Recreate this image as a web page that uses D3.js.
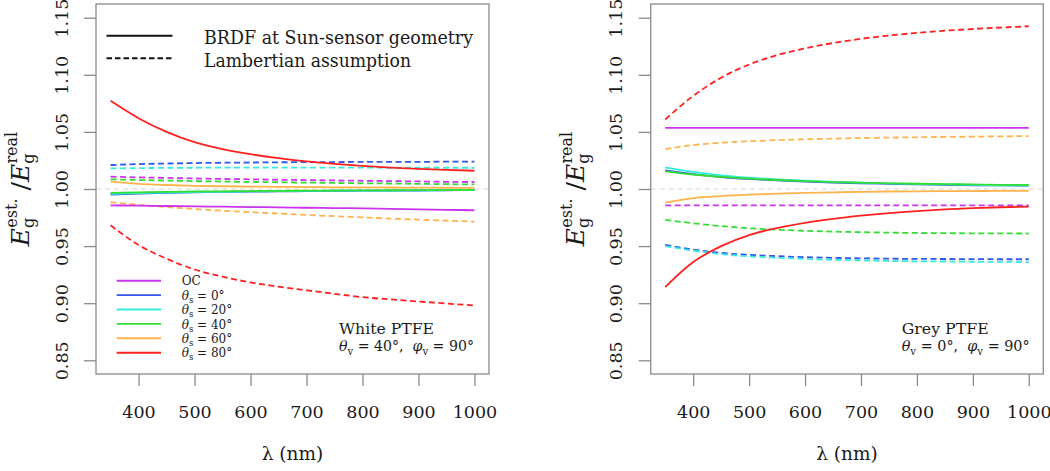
<!DOCTYPE html>
<html>
<head>
<meta charset="utf-8">
<script src="https://cdn.jsdelivr.net/npm/d3@7"></script>
<style>
  body { margin: 0; background: #fff; }
  svg { display: block; }
  text { fill: #1a1a1a; white-space: pre; }
</style>
</head>
<body>
<svg id="chart" width="1050" height="471" font-family="DejaVu Serif"></svg>
<script>
// ---------------- DATA ----------------
const wavelengths = [350, 400, 450, 500, 550, 600, 650, 700, 750, 800, 850, 900, 950, 1000];
const seriesNames = ["OC", "0", "20", "40", "60", "80"];
const seriesColors = ["#cc33ee", "#3355ee", "#33eedd", "#33dd33", "#ffb34d", "#ff2020"];
const xTicks = [400, 500, 600, 700, 800, 900, 1000];
const yTicks = [0.85, 0.90, 0.95, 1.00, 1.05, 1.10, 1.15];

// White PTFE, BRDF at Sun-sensor geometry (solid)
const whiteBrdfOC  = [0.9857, 0.9854, 0.9851, 0.9848, 0.9845, 0.9842, 0.9839, 0.9836, 0.9833, 0.9830, 0.9826, 0.9822, 0.9818, 0.9814];
const whiteBrdf0   = [0.9952, 0.9960, 0.9966, 0.9970, 0.9974, 0.9977, 0.9979, 0.9981, 0.9983, 0.9985, 0.9986, 0.9987, 0.9989, 0.9990];
const whiteBrdf20  = [0.9958, 0.9964, 0.9969, 0.9973, 0.9976, 0.9979, 0.9981, 0.9983, 0.9985, 0.9986, 0.9987, 0.9988, 0.9990, 0.9991];
const whiteBrdf40  = [0.9966, 0.9971, 0.9975, 0.9978, 0.9980, 0.9982, 0.9984, 0.9985, 0.9987, 0.9988, 0.9989, 0.9990, 0.9991, 0.9992];
const whiteBrdf60  = [1.0064, 1.0045, 1.0035, 1.0028, 1.0024, 1.0021, 1.0019, 1.0017, 1.0015, 1.0014, 1.0013, 1.0012, 1.0011, 1.0010];
const whiteBrdf80  = [1.0772, 1.0620, 1.0500, 1.0410, 1.0350, 1.0305, 1.0270, 1.0242, 1.0220, 1.0202, 1.0188, 1.0176, 1.0167, 1.0160];
// White PTFE, Lambertian assumption (dashed)
const whiteLambOC  = [1.0108, 1.0102, 1.0097, 1.0092, 1.0088, 1.0085, 1.0081, 1.0078, 1.0075, 1.0072, 1.0069, 1.0066, 1.0063, 1.0061];
const whiteLamb0   = [1.0210, 1.0218, 1.0223, 1.0227, 1.0230, 1.0232, 1.0234, 1.0235, 1.0236, 1.0237, 1.0238, 1.0238, 1.0239, 1.0239];
const whiteLamb20  = [1.0180, 1.0183, 1.0185, 1.0186, 1.0187, 1.0187, 1.0187, 1.0187, 1.0187, 1.0187, 1.0186, 1.0186, 1.0186, 1.0186];
const whiteLamb40  = [1.0085, 1.0079, 1.0074, 1.0069, 1.0065, 1.0062, 1.0059, 1.0056, 1.0053, 1.0050, 1.0048, 1.0045, 1.0042, 1.0040];
const whiteLamb60  = [0.9884, 0.9862, 0.9842, 0.9825, 0.9810, 0.9797, 0.9785, 0.9773, 0.9762, 0.9751, 0.9741, 0.9732, 0.9723, 0.9714];
const whiteLamb80  = [0.9682, 0.9510, 0.9390, 0.9295, 0.9232, 0.9182, 0.9145, 0.9113, 0.9082, 0.9053, 0.9033, 0.9015, 0.8997, 0.8980];

// Grey PTFE, BRDF at Sun-sensor geometry (solid)
const greyBrdfOC   = [1.0536, 1.0536, 1.0536, 1.0536, 1.0536, 1.0536, 1.0536, 1.0536, 1.0536, 1.0536, 1.0536, 1.0536, 1.0536, 1.0536];
const greyBrdf0    = [1.0163, 1.0130, 1.0105, 1.0088, 1.0075, 1.0065, 1.0057, 1.0050, 1.0045, 1.0040, 1.0036, 1.0033, 1.0031, 1.0029];
const greyBrdf20   = [1.0190, 1.0150, 1.0120, 1.0100, 1.0085, 1.0073, 1.0063, 1.0055, 1.0049, 1.0044, 1.0040, 1.0036, 1.0033, 1.0031];
const greyBrdf40   = [1.0155, 1.0127, 1.0106, 1.0091, 1.0079, 1.0069, 1.0061, 1.0055, 1.0050, 1.0046, 1.0043, 1.0040, 1.0037, 1.0035];
const greyBrdf60   = [0.9880, 0.9920, 0.9938, 0.9950, 0.9959, 0.9966, 0.9971, 0.9975, 0.9978, 0.9980, 0.9981, 0.9982, 0.9983, 0.9983];
const greyBrdf80   = [0.9141, 0.9360, 0.9500, 0.9597, 0.9658, 0.9703, 0.9738, 0.9766, 0.9789, 0.9807, 0.9821, 0.9832, 0.9840, 0.9845];
// Grey PTFE, Lambertian assumption (dashed)
const greyLambOC   = [0.9857, 0.9857, 0.9857, 0.9857, 0.9857, 0.9857, 0.9857, 0.9857, 0.9857, 0.9857, 0.9857, 0.9857, 0.9857, 0.9857];
const greyLamb0    = [0.9510, 0.9470, 0.9440, 0.9423, 0.9412, 0.9403, 0.9397, 0.9393, 0.9390, 0.9388, 0.9387, 0.9386, 0.9385, 0.9385];
const greyLamb20   = [0.9500, 0.9460, 0.9430, 0.9410, 0.9398, 0.9388, 0.9380, 0.9375, 0.9370, 0.9367, 0.9365, 0.9363, 0.9362, 0.9360];
const greyLamb40   = [0.9729, 0.9700, 0.9675, 0.9656, 0.9643, 0.9634, 0.9627, 0.9622, 0.9618, 0.9615, 0.9613, 0.9612, 0.9611, 0.9610];
const greyLamb60   = [1.0350, 1.0385, 1.0405, 1.0418, 1.0428, 1.0435, 1.0441, 1.0446, 1.0450, 1.0453, 1.0456, 1.0458, 1.0461, 1.0463];
const greyLamb80   = [1.0609, 1.0815, 1.0975, 1.1090, 1.1172, 1.1232, 1.1278, 1.1315, 1.1344, 1.1367, 1.1386, 1.1401, 1.1414, 1.1425];

// ---------------- LAYOUT ----------------
const svg = d3.select("#chart");
svg.append("rect").attr("width", 1050).attr("height", 471).attr("fill", "#fff");

const panels = [
  { left: 96, right: 489, brdf: [whiteBrdfOC, whiteBrdf0, whiteBrdf20, whiteBrdf40, whiteBrdf60, whiteBrdf80],
    lamb: [whiteLambOC, whiteLamb0, whiteLamb20, whiteLamb40, whiteLamb60, whiteLamb80],
    title: "White PTFE", tv: "40", annX: 339, titleW: 95, angW: 135, legends: true },
  { left: 650.7, right: 1043.3, brdf: [greyBrdfOC, greyBrdf0, greyBrdf20, greyBrdf40, greyBrdf60, greyBrdf80],
    lamb: [greyLambOC, greyLamb0, greyLamb20, greyLamb40, greyLamb60, greyLamb80],
    title: "Grey PTFE", tv: "0", annX: 901.7, titleW: 87, angW: 128, legends: false }
];
const plotTop = 4, plotBottom = 374;
const boxColor = "#8a8a8a";
const FONT = "DejaVu Serif";

function subSup(textSel, parts) {
  parts.forEach(p => {
    const t = textSel.append("tspan").text(p.t);
    if (p.i) t.attr("font-style", "italic");
    if (p.fs) t.attr("font-size", p.fs);
    if (p.dx !== undefined) t.attr("dx", p.dx);
    if (p.dy !== undefined) t.attr("dy", p.dy);
  });
}

panels.forEach(P => {
  const x = d3.scaleLinear().domain([324, 1026]).range([P.left, P.right]);
  const y = d3.scaleLinear().domain([0.838, 1.162]).range([plotBottom, plotTop]);
  const g = svg.append("g").attr("font-family", FONT);

  g.append("line")
    .attr("x1", P.left).attr("x2", P.right)
    .attr("y1", y(1)).attr("y2", y(1))
    .attr("stroke", "#d4d4d4").attr("stroke-width", 1.2).attr("stroke-dasharray", "5,4");

  const line = d3.line().x((d, i) => x(wavelengths[i])).y(d => y(d)).curve(d3.curveMonotoneX);

  P.lamb.forEach((arr, k) => {
    g.append("path").datum(arr).attr("d", line).attr("fill", "none")
      .attr("stroke", seriesColors[k]).attr("stroke-width", 1.8).attr("stroke-dasharray", "6,3.5");
  });
  P.brdf.forEach((arr, k) => {
    g.append("path").datum(arr).attr("d", line).attr("fill", "none")
      .attr("stroke", seriesColors[k]).attr("stroke-width", 1.8);
  });

  g.append("rect").attr("x", P.left).attr("y", plotTop)
    .attr("width", P.right - P.left).attr("height", plotBottom - plotTop)
    .attr("fill", "none").attr("stroke", boxColor).attr("stroke-width", 1.3);

  const yAxis = g.append("g").attr("transform", `translate(${P.left},0)`)
    .call(d3.axisLeft(y).tickValues(yTicks).tickSize(12).tickFormat(d3.format(".2f")));
  yAxis.select(".domain").remove();
  yAxis.attr("font-family", FONT);
  yAxis.selectAll(".tick line").attr("stroke", boxColor).attr("stroke-width", 1.3);
  yAxis.selectAll(".tick text")
    .attr("x", null).attr("dy", null)
    .attr("text-anchor", "middle")
    .attr("transform", "translate(-28.3,0) rotate(-90)")
    .attr("font-size", 17.5).attr("fill", "#1a1a1a");

  const xAxis = g.append("g").attr("transform", `translate(0,${plotBottom})`)
    .call(d3.axisBottom(x).tickValues(xTicks).tickSize(12).tickFormat(d3.format("d")));
  xAxis.select(".domain").remove();
  xAxis.attr("font-family", FONT);
  xAxis.selectAll(".tick line").attr("stroke", boxColor).attr("stroke-width", 1.3);
  xAxis.selectAll(".tick text")
    .attr("y", 44.3).attr("dy", null)
    .attr("font-size", 17.5).attr("fill", "#1a1a1a");

  const cx = (P.left + P.right) / 2;
  g.append("text").attr("x", cx).attr("y", 460).attr("text-anchor", "middle")
    .attr("font-size", 18.5).text("λ (nm)");

  const yt = g.append("text").attr("text-anchor", "middle").attr("font-size", 25)
    .attr("transform", `translate(${P.left - 67},189) rotate(-90)`);
  subSup(yt, [
    { t: "E", i: true },
    { t: "g", fs: 16, dy: 5 },
    { t: "est.", fs: 16, dx: -10, dy: -17 },
    { t: " /", dy: 12 },
    { t: "E", i: true },
    { t: "g", fs: 16, dy: 5 },
    { t: "real", fs: 16, dx: -10, dy: -17 },
  ]);

  g.append("text").attr("x", P.annX).attr("y", 334.3).attr("font-size", 15.5)
    .attr("textLength", P.titleW).attr("lengthAdjust", "spacingAndGlyphs").text(P.title);
  const an = g.append("text").attr("x", P.annX).attr("y", 350.7).attr("font-size", 14.8)
    .attr("textLength", P.angW).attr("lengthAdjust", "spacingAndGlyphs");
  subSup(an, [
    { t: "θ", i: true },
    { t: "v", fs: 10.5, dy: 4 },
    { t: " = " + P.tv + "°,  ", dy: -4 },
    { t: "φ", i: true },
    { t: "v", fs: 10.5, dy: 4 },
    { t: " = 90°", dy: -4 },
  ]);

  if (P.legends) {
    const lt = [{ y: 35.7, dash: null, label: "BRDF at Sun-sensor geometry", w: 269 },
                { y: 58.3, dash: "5.5,3", label: "Lambertian assumption", w: 207 }];
    lt.forEach(d => {
      g.append("line").attr("x1", 106.5).attr("x2", 172.5).attr("y1", d.y).attr("y2", d.y)
        .attr("stroke", "#111").attr("stroke-width", 2).attr("stroke-dasharray", d.dash);
      g.append("text").attr("x", 204).attr("y", d.y + 8.2).attr("font-size", 19)
        .attr("textLength", d.w).attr("lengthAdjust", "spacingAndGlyphs").text(d.label);
    });
    seriesNames.forEach((name, k) => {
      const ly = 280.7 + k * 14.4;
      g.append("line").attr("x1", 116.7).attr("x2", 161).attr("y1", ly).attr("y2", ly)
        .attr("stroke", seriesColors[k]).attr("stroke-width", 1.9);
      const t = g.append("text").attr("x", 181.7).attr("y", ly + 4.6).attr("font-size", 12);
      if (name === "OC") t.text("OC");
      else subSup(t, [
        { t: "θ", i: true },
        { t: "s", fs: 8.5, dy: 3 },
        { t: " = " + name + "°", dy: -3 },
      ]);
    });
  }
});
</script>
</body>
</html>
